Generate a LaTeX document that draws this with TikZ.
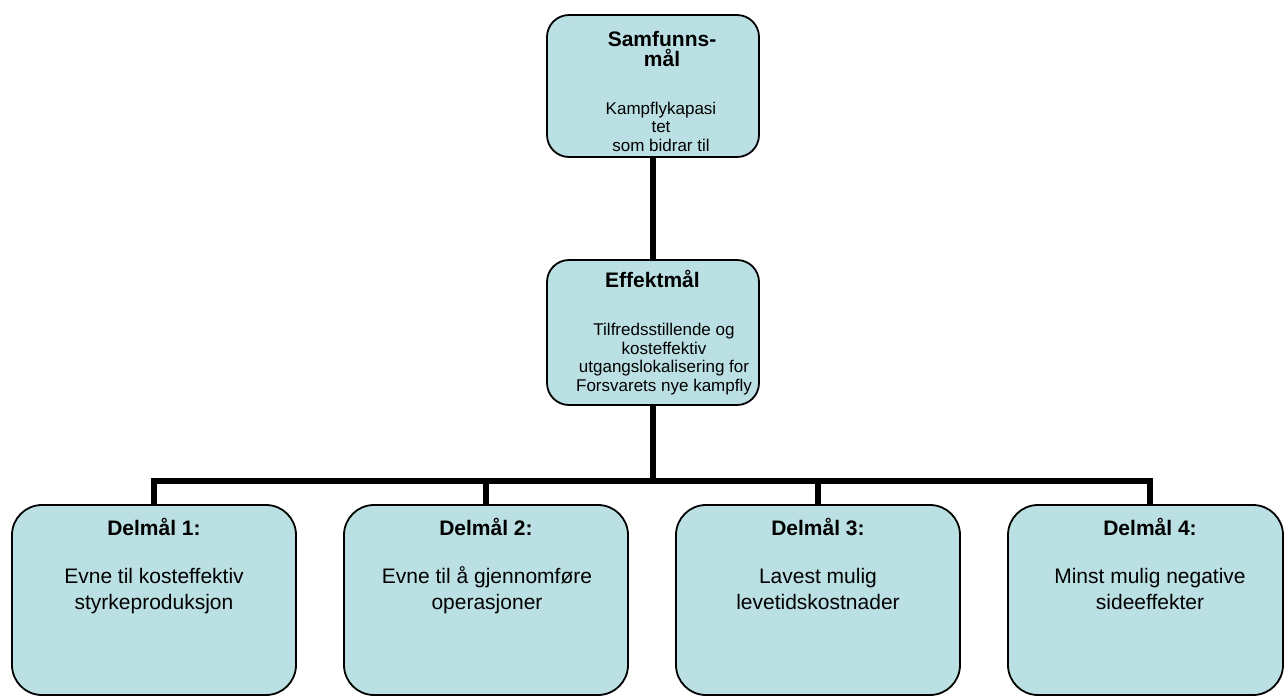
\documentclass[tikz,border=0pt]{standalone}
\usepackage{fontspec}
\setmainfont{Liberation Sans}

\definecolor{goalfill}{RGB}{187,224,227}

\tikzset{
  goal/.style={draw, line width=1.8pt, fill=goalfill, rounded corners=22pt},
  subgoal/.style={goal, rounded corners=30pt, minimum height=190pt},
  link/.style={line width=5.7pt},
  head/.style={font=\fontsize{21}{19.5}\selectfont\bfseries, align=center, anchor=base, inner sep=0pt},
  body/.style={font=\fontsize{17}{18.5}\selectfont, align=center, anchor=base, inner sep=0pt},
  subtext/.style={font=\fontsize{21}{25.7}\selectfont, align=center, anchor=base, inner sep=0pt},
}

\begin{document}
\begin{tikzpicture}[x=1pt,y=-1pt]
  \useasboundingbox (0,0) rectangle (1285,697);

  % boxes
  \node[goal, minimum width=212pt, minimum height=142pt] (sam) at (653,86) {};
  \node[goal, minimum width=212pt, minimum height=145pt] (eff) at (653,332.5) {};
  \node[subgoal, minimum width=284pt] (d1) at (154,600) {};
  \node[subgoal, minimum width=284pt] (d2) at (486,600) {};
  \node[subgoal, minimum width=284pt] (d3) at (818,600) {};
  \node[subgoal, minimum width=275pt] (d4) at (1145.5,600) {};

  % texts (base = last line)
  \node[head] (samhead) at (662,66) {Samfunns-\\mål};
  \node[body] (sambody) at (661,151) {Kampflykapasi\\tet\\som bidrar til};
  \node[head] (effhead) at (652.5,287) {Effektmål};
  \node[body] (effbody) at (664,391) {Tilfredsstillende og\\kosteffektiv\\utgangslokalisering for\\Forsvarets nye kampfly};
  \node[head] (d1head) at (154,535) {Delmål 1:};
  \node[subtext] (d1body) at (154,609) {Evne til kosteffektiv\\styrkeproduksjon};
  \node[head] (d2head) at (486,535) {Delmål 2:};
  \node[subtext] (d2body) at (487,609) {Evne til å gjennomføre\\operasjoner};
  \node[head] (d3head) at (818,535) {Delmål 3:};
  \node[subtext] (d3body) at (818,609) {Lavest mulig\\levetidskostnader};
  \node[head] (d4head) at (1150,535) {Delmål 4:};
  \node[subtext] (d4body) at (1150,609) {Minst mulig negative\\sideeffekter};

  % connectors
  \coordinate (hub) at (653,481);
  \coordinate (d4top) at (1150,505);
  \draw[link] (sam.south) -- (eff.north);
  \draw[link] (eff.south) -- (hub);
  \draw[link] (d1.north) |- (hub) -| (d4top);
  \draw[link] (d2.north) -- (d2.north |- hub);
  \draw[link] (d3.north) -- (d3.north |- hub);
\end{tikzpicture}
\end{document}
